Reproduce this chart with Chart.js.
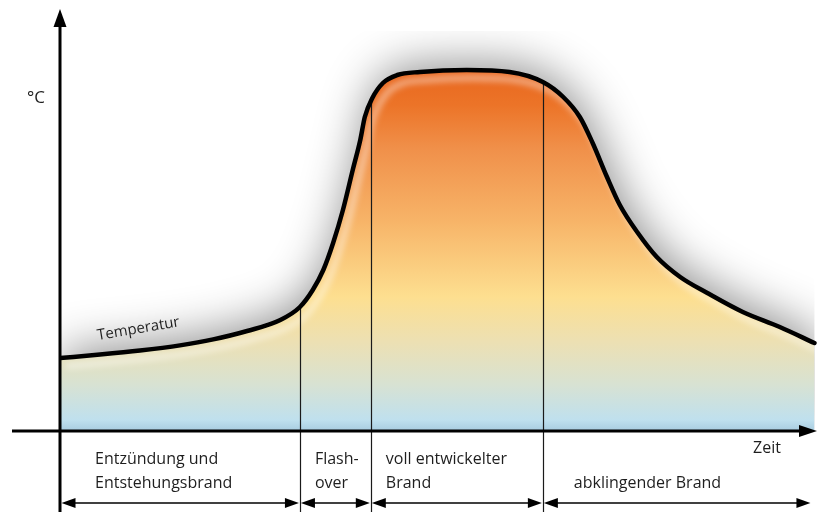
<!DOCTYPE html>
<html>
<head>
<meta charset="utf-8">
<script src="https://cdn.jsdelivr.net/npm/chart.js@4"></script>
<style>
  html, body { margin: 0; padding: 0; background: #fff; }
  #wrap { width: 827px; height: 512px; }
</style>
</head>
<body>
<div id="wrap"><canvas id="brandChart" width="827" height="512"></canvas></div>
<script>
// Zeit (0..100) und Temperatur (0..100)
var zeit  = [0, 5.3, 10.6, 15.9, 20.3, 24.8, 29.2, 31.8, 33.5, 34.9, 36.2, 37.5, 38.8, 39.8, 40.4, 41.4, 42.8, 44.7, 47.7, 53.9, 59.6, 64.0, 66.7, 68.9, 70.6, 72.5, 74.2, 76.5, 79.1, 82.2, 85.8, 90.5, 95.4, 100];
var temp  = [18.25, 19.1, 20.1, 21.4, 22.9, 25.0, 27.75, 31.0, 35.25, 40.25, 47.0, 55.25, 65.25, 72.75, 78.5, 83.25, 87.0, 89.0, 89.75, 90.25, 89.75, 87.25, 83.5, 78.5, 72.0, 63.5, 56.5, 49.75, 43.5, 38.5, 34.5, 29.75, 26.0, 22.0];

// Phasengrenzen auf der Zeitachse
var phasen = [0, 31.8, 41.2, 64.0, 99.6];
var phasenText = [
  ['Entzündung und', 'Entstehungsbrand'],
  ['Flash-', 'over'],
  ['voll entwickelter', 'Brand'],
  ['', 'abklingender Brand']
];
var textEinzug = [35, 15, 15, 31];

var points = [];
for (let i = 0; i < zeit.length; i++) {
  points.push({x: zeit[i], y: temp[i]});
}

var FONT = '16px "Open Sans", "Noto Sans", sans-serif';

function fillGradient(context) {
  const chart = context.chart;
  const area = chart.chartArea;
  if (!area) return '#f4a85c';
  const ctx = chart.ctx;
  const ys = chart.scales.y;
  const top = ys.getPixelForValue(90.5);
  const bot = ys.getPixelForValue(0);
  const g = ctx.createLinearGradient(0, top, 0, bot);
  g.addColorStop(0.00, '#e8661e');
  g.addColorStop(0.10, '#ec7428');
  g.addColorStop(0.22, '#f0904a');
  g.addColorStop(0.42, '#f7b468');
  g.addColorStop(0.63, '#fddf90');
  g.addColorStop(0.75, '#ede0b2');
  g.addColorStop(0.87, '#d8e2d2');
  g.addColorStop(0.97, '#bfe0ee');
  g.addColorStop(1.00, '#a8cce0');
  return g;
}

function curvePath(chart, ctx, bottom) {
  const meta = chart.getDatasetMeta(0);
  const line = meta.dataset;
  try { line.updateControlPoints(chart.chartArea, 'x'); } catch (e) {}
  ctx.beginPath();
  line.path(ctx);
  const last = meta.data[meta.data.length - 1];
  const first = meta.data[0];
  ctx.lineTo(last.x, bottom);
  ctx.lineTo(first.x, bottom);
  ctx.closePath();
}

function arrowHead(ctx, x, y, dir, len, half) {
  ctx.beginPath();
  ctx.moveTo(x, y);
  ctx.lineTo(x - dir * len, y - half);
  ctx.lineTo(x - dir * len, y + half);
  ctx.closePath();
  ctx.fill();
}

function arrowUp(ctx, x, y, len, half) {
  ctx.beginPath();
  ctx.moveTo(x, y);
  ctx.lineTo(x - half, y + len);
  ctx.lineTo(x + half, y + len);
  ctx.closePath();
  ctx.fill();
}

const brandPlugin = {
  id: 'brand',
  beforeDatasetsDraw(chart) {
    const ctx = chart.ctx;
    ctx.save();
    ctx.shadowColor = 'rgba(0,0,0,0.45)';
    ctx.shadowBlur = 46;
    ctx.shadowOffsetX = 3;
    ctx.shadowOffsetY = -6;
  },
  beforeDatasetDraw(chart) {
    const ctx = chart.ctx;
    ctx.restore();
    const xs = chart.scales.x;
    const ys = chart.scales.y;
    const y0 = ys.getPixelForValue(0);

    // Glanzlicht innen an der Kurve
    ctx.save();
    curvePath(chart, ctx, y0);
    ctx.clip();
    ctx.translate(6, 8);
    ctx.filter = 'blur(3px)';
    ctx.strokeStyle = 'rgba(255,255,255,0.45)';
    ctx.lineWidth = 6;
    ctx.beginPath();
    chart.getDatasetMeta(0).dataset.path(ctx);
    ctx.stroke();
    ctx.restore();

    // Phasengrenzen bis zur Kurve
    ctx.save();
    curvePath(chart, ctx, 512);
    ctx.clip();
    ctx.strokeStyle = '#1a1a1a';
    ctx.lineWidth = 1.2;
    for (let i = 1; i < phasen.length - 1; i++) {
      const px = Math.round(xs.getPixelForValue(phasen[i])) + 0.5;
      ctx.beginPath();
      ctx.moveTo(px, 512);
      ctx.lineTo(px, 0);
      ctx.stroke();
    }
    ctx.restore();
  },
  afterDraw(chart) {
    const ctx = chart.ctx;
    const xs = chart.scales.x;
    const ys = chart.scales.y;
    const x0 = xs.getPixelForValue(0);
    const y0 = ys.getPixelForValue(0);
    ctx.save();
    ctx.fillStyle = '#000';
    ctx.strokeStyle = '#000';

    // y-Achse
    ctx.lineWidth = 3;
    ctx.beginPath();
    ctx.moveTo(x0, 512);
    ctx.lineTo(x0, 26);
    ctx.stroke();
    arrowUp(ctx, x0, 9, 18, 6.5);

    // x-Achse
    ctx.beginPath();
    ctx.moveTo(12, y0);
    ctx.lineTo(800, y0);
    ctx.stroke();
    arrowHead(ctx, 817, y0, 1, 18, 6);

    // Phasenpfeile
    const ay = 503;
    ctx.lineWidth = 1.5;
    for (let i = 0; i < phasen.length - 1; i++) {
      const a = xs.getPixelForValue(phasen[i]);
      const b = xs.getPixelForValue(phasen[i + 1]);
      const s = (i === 0) ? a + 1.5 : a + 1;
      const e = b - 1;
      ctx.beginPath();
      ctx.moveTo(s + 6, ay);
      ctx.lineTo(e - 6, ay);
      ctx.stroke();
      arrowHead(ctx, s, ay, -1, 14, 5);
      arrowHead(ctx, e, ay, 1, 14, 5);
    }

    // Texte
    ctx.fillStyle = '#1e1e1e';
    ctx.font = FONT;
    ctx.textBaseline = 'middle';
    ctx.textAlign = 'left';
    for (let i = 0; i < phasenText.length; i++) {
      const tx = xs.getPixelForValue(phasen[i]) + textEinzug[i];
      ctx.fillText(phasenText[i][0], tx, 459);
      ctx.fillText(phasenText[i][1], tx, 483);
    }
    ctx.fillText('Zeit', 753, 448);
    ctx.font = '17px "Open Sans", "Noto Sans", sans-serif';
    ctx.fillText('°C', 27, 98);

    ctx.save();
    ctx.font = '15px "Open Sans", "Noto Sans", sans-serif';
    ctx.translate(98, 340);
    ctx.rotate(-9.5 * Math.PI / 180);
    ctx.textBaseline = 'alphabetic';
    ctx.fillText('Temperatur', 0, 0);
    ctx.restore();

    ctx.restore();
  }
};

const ctx = document.getElementById('brandChart').getContext('2d');
const brandChart = new Chart(ctx, {
  type: 'line',
  data: {
    datasets: [{
      label: 'Temperatur',
      data: points,
      borderColor: '#000',
      borderWidth: 4.5,
      borderCapStyle: 'round',
      borderJoinStyle: 'round',
      pointRadius: 0,
      cubicInterpolationMode: 'monotone',
      fill: 'origin',
      backgroundColor: fillGradient
    }]
  },
  options: {
    responsive: false,
    animation: false,
    layout: { padding: { left: 60, right: 5, top: 31, bottom: 81 } },
    scales: {
      x: { type: 'linear', min: 0, max: 101, display: false },
      y: { min: 0, max: 100, display: false }
    },
    plugins: {
      legend: { display: false },
      tooltip: { enabled: false }
    }
  },
  plugins: [brandPlugin]
});
</script>
</body>
</html>
